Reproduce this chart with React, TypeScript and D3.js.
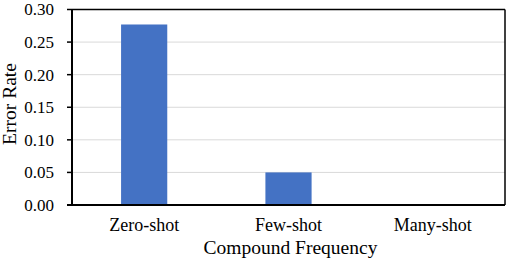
import React from 'react';
import * as d3 from 'd3';

const categories = ['Zero-shot', 'Few-shot', 'Many-shot'];
const errorRates = [0.277, 0.05, 0];
const yTicks = [0, 0.05, 0.1, 0.15, 0.2, 0.25, 0.3];

const W = 506;
const H = 260;
const margin = { top: 9.5, right: 1, bottom: 55, left: 72 };
const font = 'Liberation Serif, Times New Roman, serif';

export default function App() {
  const x = d3
    .scaleBand()
    .domain(categories)
    .range([margin.left, W - margin.right])
    .paddingInner(0.68)
    .paddingOuter(0.34);
  const y = d3.scaleLinear().domain([0, 0.3]).range([H - margin.bottom, margin.top]);

  const band = (W - margin.right - margin.left) / categories.length;
  const center = (c: string) => margin.left + band * (categories.indexOf(c) + 0.5);
  const bw = x.bandwidth();

  return (
    <div style={{ position: 'fixed', left: 0, top: 0 }}>
      <svg width={W} height={H} style={{ display: 'block', background: '#fff', fontFamily: font }}>
        {/* gridlines */}
        {yTicks.slice(1, -1).map((t) => (
          <line key={t} x1={margin.left} x2={W - margin.right} y1={y(t)} y2={y(t)} stroke="#d9d9d9" strokeWidth={1} />
        ))}
        {/* bars */}
        {categories.map((c, i) => (
          <rect
            key={c}
            x={center(c) - bw / 2}
            y={y(errorRates[i])}
            width={bw}
            height={y(0) - y(errorRates[i])}
            fill="#4472c4"
          />
        ))}
        {/* frame */}
        <line x1={margin.left} x2={W - margin.right} y1={margin.top} y2={margin.top} stroke="#000" strokeWidth={1.5} />
        <line x1={W - margin.right} x2={W - margin.right} y1={margin.top} y2={y(0)} stroke="#000" strokeWidth={1.5} />
        <line x1={margin.left} x2={margin.left} y1={margin.top} y2={y(0)} stroke="#000" strokeWidth={2} />
        <line x1={margin.left - 5} x2={W - margin.right} y1={y(0)} y2={y(0)} stroke="#000" strokeWidth={2} />
        {/* y ticks */}
        {yTicks.map((t) => (
          <g key={t}>
            <line x1={margin.left - 5} x2={margin.left} y1={y(t)} y2={y(t)} stroke="#000" strokeWidth={1.5} />
            <text x={54} y={y(t)} dy="0.35em" textAnchor="end" fontSize={17} fill="#000">
              {d3.format('.2f')(t)}
            </text>
          </g>
        ))}
        {/* x labels */}
        {categories.map((c) => (
          <text key={c} x={center(c)} y={231} textAnchor="middle" fontSize={18} fill="#000">
            {c}
          </text>
        ))}
        <text x={(margin.left + W - margin.right) / 2 + 2} y={254} textAnchor="middle" fontSize={19.5} fill="#000">
          Compound Frequency
        </text>
        <text
          transform={`translate(16,104) rotate(-90)`}
          textAnchor="middle"
          fontSize={19.5}
          fill="#000"
        >
          Error Rate
        </text>
      </svg>
    </div>
  );
}
